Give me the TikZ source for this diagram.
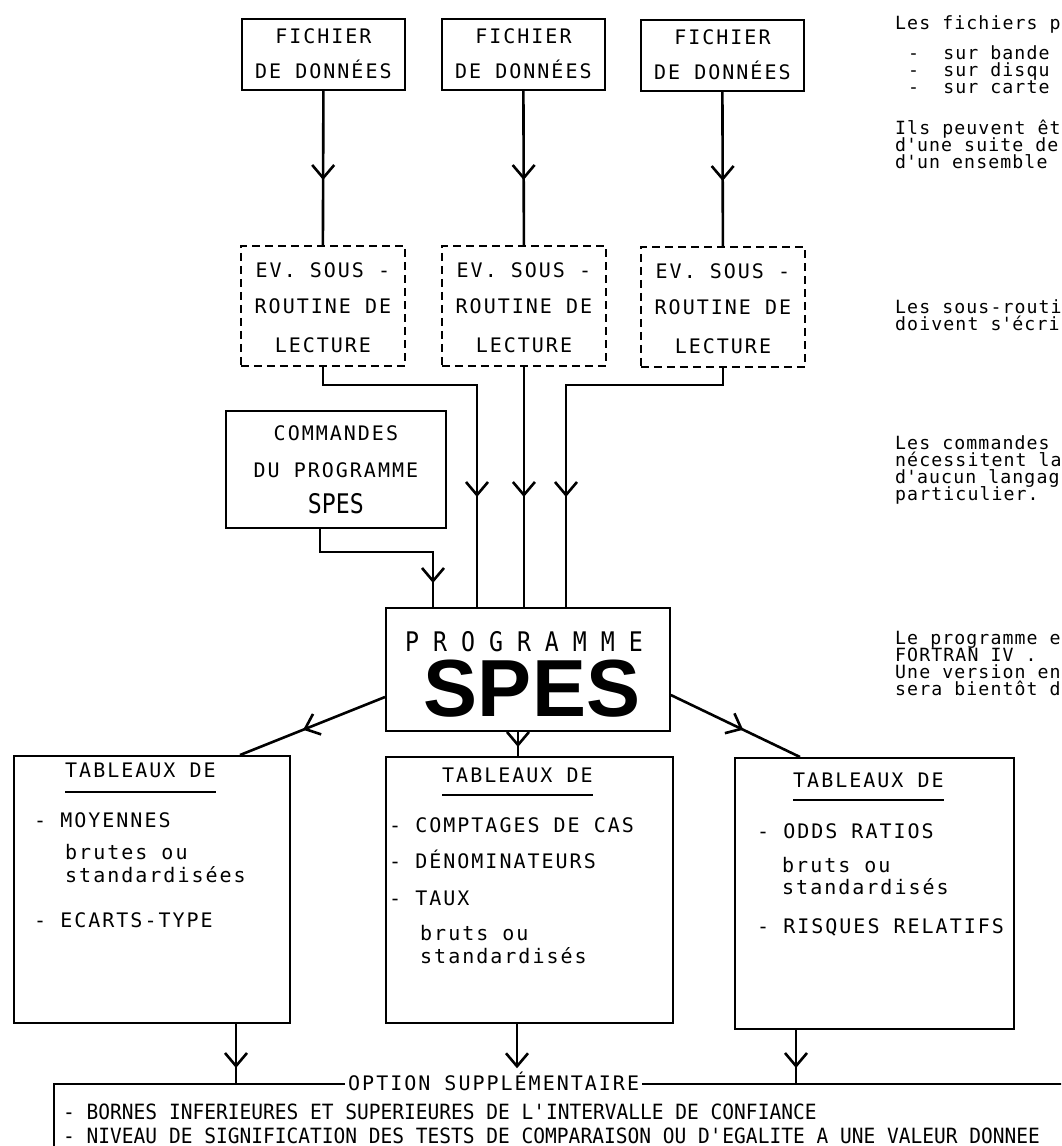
\documentclass[tikz,border=0pt]{standalone}
\usepackage{fontspec}
\usetikzlibrary{arrows.meta,decorations.markings}
\newfontfamily\boxf[LetterSpace=10]{DejaVu Sans Mono}
\newfontfamily\notef[LetterSpace=6]{DejaVu Sans Mono}
\newfontfamily\progf[FakeStretch=0.86]{DejaVu Sans Mono}
\newfontfamily\optf[FakeStretch=0.93]{DejaVu Sans Mono}
\newfontfamily\bigf{Liberation Sans}
\tikzset{
  bx/.style={draw, line width=1.8pt, inner sep=0pt, anchor=north west},
  dbx/.style={bx, dash pattern=on 8pt off 5pt},
  conn/.style={line width=2.6pt},
  ar/.style={postaction={decorate}, decoration={markings, mark=at position #1 with {\arrow{Straight Barb[length=13pt,width=22pt]}}}},
  lbl/.style={font=\boxf\fontsize{20}{20}\selectfont, inner sep=0pt},
  cl/.style={lbl, anchor=base},
  ll/.style={lbl, anchor=base west},
  note/.style={font=\notef\fontsize{18.2}{17}\selectfont, inner sep=0pt, anchor=base west, text height=12pt, text depth=3pt},
  opttx/.style={font=\optf\fontsize{21}{21}\selectfont, inner sep=0pt, anchor=base west},
  ul/.style={line width=1.5pt},
}
\begin{document}
\begin{tikzpicture}[x=1pt,y=-1pt]
\useasboundingbox (0,0) rectangle (1061,1146);
\clip (0,0) rectangle (1061,1146);

% data files
\node[bx, minimum width=163pt, minimum height=71pt] (f1) at (241,18) {};
\node[bx, minimum width=163pt, minimum height=71pt] (f2) at (441,18) {};
\node[bx, minimum width=163pt, minimum height=71pt] (f3) at (640,19) {};
\node[cl] (f1a) at (f1.north |- 0,43) {FICHIER};
\node[cl] (f1b) at (f1.north |- 0,78) {DE DONNÉES};
\node[cl] (f2a) at (f2.north |- 0,43) {FICHIER};
\node[cl] (f2b) at (f2.north |- 0,78) {DE DONNÉES};
\node[cl] (f3a) at (f3.north |- 0,44) {FICHIER};
\node[cl] (f3b) at (f3.north |- 0,79) {DE DONNÉES};

% reading subroutines
\node[dbx, minimum width=164pt, minimum height=120pt] (d1) at (240,245) {};
\node[dbx, minimum width=164pt, minimum height=120pt] (d2) at (441,245) {};
\node[dbx, minimum width=164pt, minimum height=120pt] (d3) at (640,246) {};
\node[cl] (d1a) at (d1.north |- 0,277) {EV. SOUS -};
\node[cl] (d1b) at (d1.north |- 0,313) {ROUTINE DE};
\node[cl] (d1c) at (d1.north |- 0,352) {LECTURE};
\node[cl] (d2a) at (d2.north |- 0,277) {EV. SOUS -};
\node[cl] (d2b) at (d2.north |- 0,313) {ROUTINE DE};
\node[cl] (d2c) at (d2.north |- 0,352) {LECTURE};
\node[cl] (d3a) at (d3.north |- 0,278) {EV. SOUS -};
\node[cl] (d3b) at (d3.north |- 0,314) {ROUTINE DE};
\node[cl] (d3c) at (d3.north |- 0,353) {LECTURE};

% commands
\node[bx, minimum width=220pt, minimum height=117pt] (cmd) at (225,410) {};
\node[cl] (cmda) at (cmd.north |- 0,440) {COMMANDES};
\node[cl] (cmdb) at (cmd.north |- 0,477) {DU PROGRAMME};
\node[font=\progf\fontsize{27}{27}\selectfont, inner sep=0pt, anchor=base] (cmdc) at (cmd.north |- 0,513) {SPES};

% program
\node[bx, minimum width=284pt, minimum height=123pt] (spes) at (385,607) {};
\node[font=\progf\fontsize{27}{27}\selectfont, anchor=base west, inner sep=0pt, text depth=0pt] (prog) at (405,651) {P R O G R A M M E};
\node[font=\bigf\bfseries\fontsize{81}{81}\selectfont, anchor=base, inner sep=0pt, text height=58pt, text depth=0pt] (spesbig) at (532,716) {SPES};

% tables
\node[bx, minimum width=276pt, minimum height=267pt] (t1) at (13,755) {};
\node[bx, minimum width=287pt, minimum height=266pt] (t2) at (385,756) {};
\node[bx, minimum width=279pt, minimum height=271pt] (t3) at (734,757) {};

\node[ll] (t1h) at (65,777) {TABLEAUX DE};
\draw[ul] ([yshift=-15pt]t1h.base west) -- ([yshift=-15pt]t1h.base east);
\node[ll] (t1a) at (34,827) {- MOYENNES};
\node[ll] (t1b) at (65,859) {brutes ou};
\node[ll] (t1c) at (65,882) {standardisées};
\node[ll] (t1d) at (34,927) {- ECARTS-TYPE};

\node[ll] (t2h) at (442,782) {TABLEAUX DE};
\draw[ul] ([yshift=-13pt]t2h.base west) -- ([yshift=-13pt]t2h.base east);
\node[ll] (t2a) at (389,832) {- COMPTAGES DE CAS};
\node[ll] (t2b) at (389,868) {- DÉNOMINATEURS};
\node[ll] (t2c) at (389,905) {- TAUX};
\node[ll] (t2d) at (420,940) {bruts ou};
\node[ll] (t2e) at (420,963) {standardisés};

\node[ll] (t3h) at (793,787) {TABLEAUX DE};
\draw[ul] ([yshift=-13pt]t3h.base west) -- ([yshift=-13pt]t3h.base east);
\node[ll] (t3a) at (757,838) {- ODDS RATIOS};
\node[ll] (t3b) at (782,872) {bruts ou};
\node[ll] (t3c) at (782,894) {standardisés};
\node[ll] (t3d) at (757,933) {- RISQUES RELATIFS};

% option box
\node[bx, minimum width=1100pt, minimum height=200pt] (opt) at (53,1083) {};
\node[font=\boxf\fontsize{20}{20}\selectfont, fill=white, inner xsep=3pt, inner ysep=3pt, anchor=base west] (optl) at (345,1090) {OPTION SUPPLÉMENTAIRE};
\node[opttx] (o1) at (63,1119) {- BORNES INFERIEURES ET SUPERIEURES DE L\textquotesingle INTERVALLE DE CONFIANCE};
\node[opttx] (o2) at (63,1143) {- NIVEAU DE SIGNIFICATION DES TESTS DE COMPARAISON OU D\textquotesingle EGALITE A UNE VALEUR DONNEE};

% notes on the right
\node[note] (n1) at (895,29) {Les fichiers p};
\node[note] (n2) at (908,59) {-\ \ sur bande};
\node[note] (n3) at (908,76) {-\ \ sur disqu};
\node[note] (n4) at (908,93) {-\ \ sur carte};
\node[note] (n5) at (895,134) {Ils peuvent êt};
\node[note] (n6) at (895,151) {d\textquotesingle une suite de};
\node[note] (n7) at (895,168) {d\textquotesingle un ensemble};
\node[note] (n8) at (895,313) {Les sous-routi};
\node[note] (n9) at (895,330) {doivent s\textquotesingle écri};
\node[note] (n10) at (895,449) {Les commandes};
\node[note] (n11) at (895,466) {nécessitent la};
\node[note] (n12) at (895,483) {d\textquotesingle aucun langag};
\node[note] (n13) at (895,500) {particulier.};
\node[note] (n14) at (895,644) {Le programme es};
\node[note] (n15) at (895,661) {FORTRAN IV .};
\node[note] (n16) at (895,678) {Une version en};
\node[note] (n17) at (895,695) {sera bientôt d};

% connectors
\draw[conn, ar=-65pt] (f1.south) -- (d1.north);
\draw[conn, ar=-65pt] (f2.south) -- (d2.north);
\draw[conn, ar=-65pt] (f3.south) -- (d3.north);

\draw[conn, ar=-110pt] (d1.south) -- ++(0,18) -| ([xshift=92pt]spes.north west);
\draw[conn, ar=-110pt] (d2.south) -- (d2.south |- spes.north);
\draw[conn, ar=-110pt] (d3.south) -- ++(0,17) -| ([xshift=181pt]spes.north west);
\draw[conn, ar=-24pt] ([xshift=95pt]cmd.south west) -- ++(0,23) -| ([xshift=48pt]spes.north west);

\draw[conn, ar=-68pt] ([yshift=-90pt]spes.north west) -- ([xshift=227pt]t1.north west);
\draw[conn, ar=-9pt] ([xshift=133pt]spes.south west) -- ([xshift=133pt]t2.north west);
\draw[conn, ar=-63pt] ([yshift=-88pt]spes.north east) -- ([xshift=66pt]t3.north west);

\coordinate (m2) at ([xshift=132pt]t2.south west);
\draw[conn, ar=-15pt] ([xshift=223pt]t1.south west) -- ([xshift=183pt]opt.north west);
\draw[conn, -{Straight Barb[length=13pt,width=22pt]}] (m2) -- (m2 |- optl.north);
\draw[conn, ar=-15pt] ([xshift=62pt]t3.south west) -- ([xshift=743pt]opt.north west);
\end{tikzpicture}
\end{document}
